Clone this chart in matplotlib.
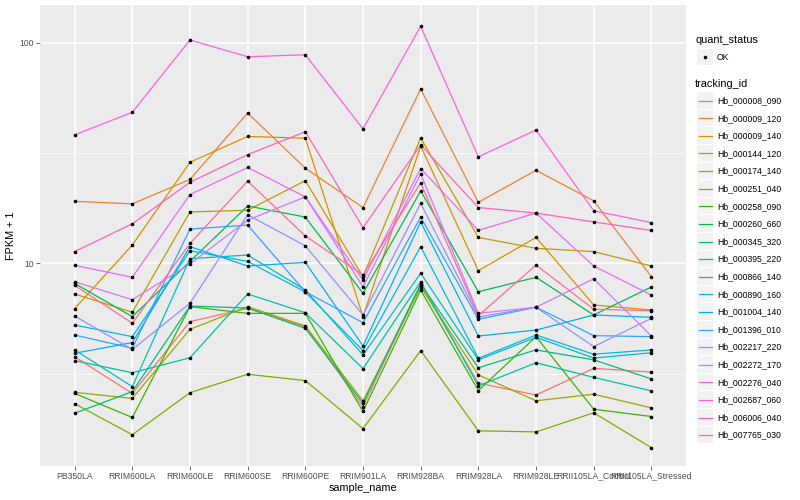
import numpy as np
import matplotlib.pyplot as plt
from matplotlib.lines import Line2D
from matplotlib.patches import Rectangle
from matplotlib.ticker import FixedLocator, NullFormatter

plt.rcParams['font.family'] = ['Liberation Sans', 'DejaVu Sans']

# --- data (FPKM + 1, one value per sample) ---
sample_names = ["PB350LA", "RRIM600LA", "RRIM600LE", "RRIM600SE", "RRIM600PE",
                "RRIM901LA", "RRIM928BA", "RRIM928LA", "RRIM928LE",
                "RRII105LA_Control", "RRII105LA_Stressed"]

hb_000008_090 = [3.77, 2.57, 5.44, 6.25, 5.16, 2.24, 7.97, 2.86, 2.53, 3.34, 3.21]
hb_000009_120 = [19.1, 18.6, 24.0, 48.0, 27.0, 17.9, 61.7, 18.9, 26.4, 19.2, 8.69]
hb_000009_140 = [6.23, 12.1, 28.7, 37.6, 36.9, 5.73, 34.0, 9.26, 13.1, 6.47, 6.14]
hb_000144_120 = [7.26, 6.00, 17.1, 17.4, 23.7, 8.69, 37.0, 13.1, 11.7, 11.3, 9.72]
hb_000174_140 = [2.60, 2.44, 5.02, 6.36, 5.20, 2.38, 7.83, 3.12, 2.38, 2.55, 2.21]
hb_000251_040 = [2.31, 1.67, 2.59, 3.14, 2.94, 1.78, 4.02, 1.74, 1.72, 2.10, 1.46]
hb_000258_090 = [2.57, 2.00, 6.36, 5.93, 5.93, 2.13, 7.57, 2.65, 4.65, 2.18, 2.02]
hb_000260_660 = [8.11, 5.73, 10.2, 18.2, 16.2, 7.31, 21.3, 7.43, 8.64, 5.83, 7.81]
hb_000345_320 = [2.09, 2.62, 6.40, 6.27, 5.07, 2.32, 8.06, 3.36, 4.05, 3.65, 2.99]
hb_000395_220 = [3.62, 3.19, 3.73, 7.26, 5.97, 3.33, 8.25, 2.78, 3.54, 3.04, 2.64]
hb_000866_140 = [4.05, 2.76, 10.5, 10.9, 7.57, 3.84, 9.01, 3.65, 4.62, 3.72, 3.93]
hb_000890_160 = [5.25, 4.65, 11.4, 10.2, 7.41, 4.02, 11.9, 3.71, 4.73, 3.87, 4.05]
hb_001004_140 = [3.91, 4.37, 11.9, 9.72, 10.1, 4.22, 15.4, 4.68, 4.98, 5.83, 5.69]
hb_001396_010 = [4.73, 4.12, 14.3, 14.9, 7.43, 5.38, 16.2, 5.57, 6.32, 4.70, 4.65]
hb_002217_220 = [5.77, 4.07, 6.59, 16.6, 12.0, 5.83, 18.7, 5.71, 6.32, 4.19, 5.63]
hb_002272_170 = [8.25, 6.84, 9.93, 15.7, 20.0, 7.83, 25.4, 5.93, 6.32, 8.51, 4.68]
hb_002276_040 = [9.79, 8.64, 20.5, 27.2, 20.0, 8.40, 26.9, 14.1, 16.9, 9.72, 7.18]
hb_002687_060 = [38.2, 48.4, 102.9, 86.4, 88.2, 40.7, 118.7, 30.4, 40.2, 17.3, 15.3]
hb_006006_040 = [11.3, 15.1, 23.3, 31.1, 39.5, 14.5, 34.4, 17.9, 16.9, 15.4, 14.1]
hb_007765_030 = [7.95, 5.35, 12.3, 23.6, 13.3, 8.85, 23.2, 5.79, 9.82, 6.19, 6.10]

tracking_ids = ["Hb_000008_090", "Hb_000009_120", "Hb_000009_140", "Hb_000144_120",
                "Hb_000174_140", "Hb_000251_040", "Hb_000258_090", "Hb_000260_660",
                "Hb_000345_320", "Hb_000395_220", "Hb_000866_140", "Hb_000890_160",
                "Hb_001004_140", "Hb_001396_010", "Hb_002217_220", "Hb_002272_170",
                "Hb_002276_040", "Hb_002687_060", "Hb_006006_040", "Hb_007765_030"]

series = [hb_000008_090, hb_000009_120, hb_000009_140, hb_000144_120, hb_000174_140,
          hb_000251_040, hb_000258_090, hb_000260_660, hb_000345_320, hb_000395_220,
          hb_000866_140, hb_000890_160, hb_001004_140, hb_001396_010, hb_002217_220,
          hb_002272_170, hb_002276_040, hb_002687_060, hb_006006_040, hb_007765_030]

# ggplot2 default hue palette for 20 levels
colors = ["#F8766D", "#EA8331", "#D89000", "#C09B00", "#A3A500", "#7CAE00", "#39B600",
          "#00BB4E", "#00BF7D", "#00C1A3", "#00BFC4", "#00BAE0", "#00B0F6", "#35A2FF",
          "#9590FF", "#C77CFF", "#E76BF3", "#FA62DB", "#FF62BC", "#FF6C91"]

W, H = 800, 500


def fx(px):
    return px / W


def fy(py):
    return 1 - py / H


fig = plt.figure(figsize=(W / 100, H / 100), dpi=100)
ax = fig.add_axes([fx(40), fy(466), fx(686 - 40), (466 - 5) / H])
ax.set_facecolor("#EBEBEB")
for sp in ax.spines.values():
    sp.set_visible(False)

x = np.arange(1, len(sample_names) + 1)
for vals, col in zip(series, colors):
    ax.plot(x, vals, color=col, lw=0.9, zorder=3)
for vals in series:
    ax.plot(x, vals, "o", color="black", ms=2.6, mec="none", zorder=4)

ax.set_yscale("log")
ax.set_ylim(1.205, 148.3)
ax.set_xlim(0.4, len(sample_names) + 0.6)
ax.yaxis.set_major_locator(FixedLocator([10, 100]))
ax.yaxis.set_minor_locator(FixedLocator([10 ** 0.5, 10 ** 1.5]))
ax.yaxis.set_minor_formatter(NullFormatter())
ax.set_yticklabels(["10", "100"])
ax.set_xticks(x)
ax.set_xticklabels(sample_names)

ax.grid(which="major", color="white", lw=1.1)
ax.grid(which="minor", axis="y", color="white", lw=0.5)
ax.set_axisbelow(True)
ax.tick_params(which="major", length=2.6, width=0.5, color="#333333",
               labelsize=6.2, labelcolor="#4D4D4D", pad=1.5)
ax.tick_params(which="minor", length=0)

ax.set_xlabel("sample_name", fontsize=7.8, labelpad=1.5)
ax.set_ylabel("FPKM + 1", fontsize=7.8, labelpad=3)

# --- legends (ggplot style, drawn in figure coordinates) ---
fig.text(fx(695), fy(40), "quant_status", fontsize=7.8, va="center", ha="left")
fig.patches.append(Rectangle((fx(697), fy(65)), fx(16), 16 / H, transform=fig.transFigure,
                             facecolor="#F2F2F2", edgecolor="none"))
fig.lines.append(Line2D([fx(705)], [fy(57)], marker="o", ms=2.6, color="black", mec="none",
                        transform=fig.transFigure))
fig.text(fx(717), fy(57), "OK", fontsize=6.2, va="center", ha="left")

fig.text(fx(695), fy(84), "tracking_id", fontsize=7.8, va="center", ha="left")
row0, step = 100.7, 17.6
for i, (tid, col) in enumerate(zip(tracking_ids, colors)):
    cy = row0 + i * step
    fig.patches.append(Rectangle((fx(697), fy(cy + 8)), fx(16), 16.6 / H,
                                 transform=fig.transFigure, facecolor="#F2F2F2",
                                 edgecolor="none"))
    fig.lines.append(Line2D([fx(698.5), fx(711.5)], [fy(cy), fy(cy)], color=col, lw=0.9,
                            transform=fig.transFigure))
    fig.text(fx(717), fy(cy), tid, fontsize=6.2, va="center", ha="left")

fig.savefig("out.png", dpi=100)
